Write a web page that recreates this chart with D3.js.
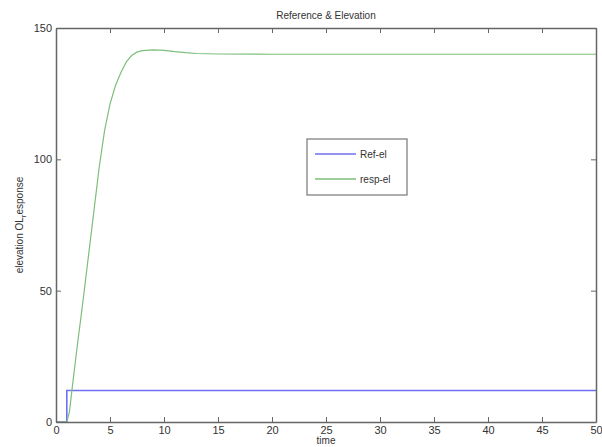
<!DOCTYPE html>
<html>
<head>
<meta charset="utf-8">
<script src="https://cdn.jsdelivr.net/npm/d3@7"></script>
<style>
  body { margin: 0; background: #fff; }
  text { font-family: "Liberation Sans", Arial, sans-serif; fill: #333; }
</style>
</head>
<body>
<div id="chart"></div>
<script>
// values
const refTime = [0, 1, 1, 50];
const refEl = [0, 0, 12, 12];

const respTime = [0, 1, 1.25, 1.5, 2, 2.5, 3, 3.5, 4, 4.5, 5, 5.5, 6, 6.5, 7, 7.5, 8, 9, 10, 11, 12, 13, 14, 15, 20, 30, 40, 50];
const respEl = [0, 0, 4, 13, 30, 46, 63, 80, 97, 111, 121, 128, 133, 137, 139.5, 140.8, 141.4, 141.7, 141.5, 141, 140.6, 140.3, 140.2, 140.1, 140, 140, 140, 140];

const xTicks = [0, 5, 10, 15, 20, 25, 30, 35, 40, 45, 50];
const yTicks = [0, 50, 100, 150];

const legendNames = ["Ref-el", "resp-el"];
const colors = ["#6f6ff5", "#7cbf7c"];

const W = 602, H = 447;
const margin = {top: 28, right: 6, bottom: 25, left: 56};
const width = W - margin.left - margin.right;
const height = H - margin.top - margin.bottom;

const svg = d3.select("#chart").append("svg")
    .attr("width", W)
    .attr("height", H);

const g = svg.append("g")
    .attr("transform", "translate(" + margin.left + "," + margin.top + ")");

const x = d3.scaleLinear().domain([0, 50]).range([0, width]);
const y = d3.scaleLinear().domain([0, 150]).range([height, 0]);

const axisColor = "#666";

// lines
const line = d3.line()
    .x(d => x(d[0]))
    .y(d => y(d[1]));

const series = [
    refTime.map((t, i) => [t, refEl[i]]),
    respTime.map((t, i) => [t, respEl[i]])
];

g.selectAll(".series")
    .data(series)
    .enter().append("path")
    .attr("class", "series")
    .attr("fill", "none")
    .attr("stroke", (d, i) => colors[i])
    .attr("stroke-width", (d, i) => i === 0 ? 1.6 : 1.2)
    .attr("d", line);

// axes: bottom with labels, top without, ticks pointing inside
const xAxis = d3.axisBottom(x).tickValues(xTicks).tickSizeInner(-5).tickSizeOuter(0).tickPadding(4);
const xAxisTop = d3.axisTop(x).tickValues(xTicks).tickSizeInner(-5).tickSizeOuter(0).tickFormat("");
const yAxis = d3.axisLeft(y).tickValues(yTicks).tickSizeInner(-5).tickSizeOuter(0).tickPadding(4);
const yAxisRight = d3.axisRight(y).tickValues(yTicks).tickSizeInner(-5).tickSizeOuter(0).tickFormat("");

const axes = [
    g.append("g").attr("transform", "translate(0," + height + ")").call(xAxis),
    g.append("g").call(xAxisTop),
    g.append("g").call(yAxis),
    g.append("g").attr("transform", "translate(" + width + ",0)").call(yAxisRight)
];

axes.forEach(a => {
    a.select(".domain").attr("stroke", axisColor).attr("stroke-width", 1.5);
    a.selectAll(".tick line").attr("stroke", axisColor);
    a.selectAll(".tick text")
        .style("font-family", "Liberation Sans, Arial, sans-serif")
        .style("font-size", "11px")
        .attr("fill", "#333");
});

// title and labels
svg.append("text")
    .attr("x", margin.left + width / 2)
    .attr("y", 19)
    .attr("text-anchor", "middle")
    .style("font-size", "10px")
    .text("Reference & Elevation");

svg.append("text")
    .attr("x", margin.left + width / 2)
    .attr("y", 444)
    .attr("text-anchor", "middle")
    .style("font-size", "10px")
    .text("time");

const yl = svg.append("text")
    .attr("transform", "translate(23," + (margin.top + height / 2) + ") rotate(-90)")
    .attr("text-anchor", "middle")
    .style("font-size", "10px");
yl.append("tspan").text("elevation OL");
yl.append("tspan").attr("dy", 3).style("font-size", "8px").text("r");
yl.append("tspan").attr("dy", -3).text("esponse");

// legend
const lg = svg.append("g").attr("transform", "translate(307,139)");
lg.append("rect")
    .attr("width", 100)
    .attr("height", 56)
    .attr("fill", "#fff")
    .attr("stroke", "#777")
    .attr("stroke-width", 1.2);

legendNames.forEach((name, i) => {
    const yy = 15 + i * 25;
    lg.append("line")
        .attr("x1", 8).attr("x2", 49)
        .attr("y1", yy).attr("y2", yy)
        .attr("stroke", colors[i])
        .attr("stroke-width", 1.3);
    lg.append("text")
        .attr("x", 53)
        .attr("y", yy + 4)
        .style("font-size", "10px")
        .text(name);
});
</script>
</body>
</html>
